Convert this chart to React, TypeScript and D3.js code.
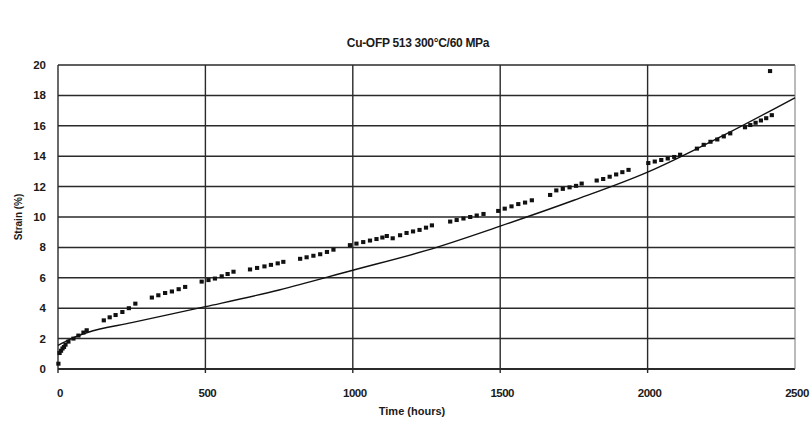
import React from "react";
import * as d3 from "d3";

const title = "Cu-OFP 513 300°C/60 MPa";
const xTicks = [0, 500, 1000, 1500, 2000, 2500];
const yTicks = [0, 2, 4, 6, 8, 10, 12, 14, 16, 18, 20];

const obsTime = [
  1, 5, 10, 15, 20, 25, 35, 52, 69, 86, 97,
  155, 175, 195, 218, 240, 262,
  318, 340, 363, 386, 409, 431,
  487, 510, 532, 555, 575, 595,
  651, 675, 700, 722, 745, 764,
  821, 843, 866, 889, 912, 934,
  990, 1012, 1035, 1058, 1080, 1100, 1115, 1135,
  1160, 1182, 1204, 1226, 1248, 1268,
  1330, 1352, 1375, 1398, 1420, 1443,
  1493, 1515, 1538, 1561, 1584, 1607,
  1669, 1690, 1712, 1735, 1757, 1776,
  1827, 1849, 1871, 1893, 1914, 1935,
  2002, 2024, 2046, 2068, 2090, 2110,
  2167, 2190, 2213, 2236, 2258, 2280,
  2330, 2348, 2366, 2384, 2402, 2421,
  2415,
];
const obsStrain = [
  0.35, 1.05, 1.2, 1.35, 1.45, 1.6, 1.8, 2.0, 2.2, 2.4, 2.55,
  3.2, 3.4, 3.55, 3.75, 4.0, 4.3,
  4.7, 4.85, 5.0, 5.1, 5.25, 5.4,
  5.75, 5.85, 5.95, 6.1, 6.25, 6.4,
  6.55, 6.65, 6.75, 6.85, 6.95, 7.05,
  7.25, 7.35, 7.45, 7.55, 7.7, 7.85,
  8.15, 8.25, 8.35, 8.45, 8.55, 8.65, 8.75, 8.6,
  8.8, 8.95, 9.05, 9.15, 9.3, 9.45,
  9.7, 9.8, 9.9, 10.0, 10.1, 10.2,
  10.4, 10.55, 10.7, 10.85, 10.95, 11.1,
  11.45, 11.75, 11.85, 11.95, 12.05, 12.2,
  12.4, 12.5, 12.65, 12.8, 12.95, 13.1,
  13.55, 13.65, 13.75, 13.85, 13.95, 14.1,
  14.5, 14.75, 14.95, 15.1, 15.3, 15.5,
  15.9, 16.05, 16.2, 16.35, 16.5, 16.7,
  19.6,
];

const fitTime = [0, 40, 100, 250, 500, 750, 1000, 1250, 1500, 1750, 2000, 2250, 2500];
const fitStrain = [1.55, 1.95, 2.4, 3.05, 4.1, 5.2, 6.5, 7.8, 9.4, 11.1, 12.95, 15.3, 17.85];

const W = 811;
const H = 425;
const m = { left: 58, right: 16, top: 65, bottom: 56 };

export default function App() {
  const x = d3.scaleLinear().domain([0, 2500]).range([m.left, W - m.right]);
  const y = d3.scaleLinear().domain([0, 20]).range([H - m.bottom, m.top]);
  const fitData = fitTime.map((t, i) => [t, fitStrain[i]] as [number, number]);
  const line = d3
    .line<[number, number]>()
    .x((d) => x(d[0]))
    .y((d) => y(d[1]))
    .curve(d3.curveMonotoneX);
  const font = "'Liberation Sans', Arial, sans-serif";
  const ink = "#1a1a1a";
  return (
    <svg
      width={W}
      height={H}
      style={{ position: "absolute", left: 0, top: 0, background: "#fff" }}
      fontFamily={font}
    >
      <rect x={0} y={0} width={W} height={H} fill="#fff" />
      <text x={418} y={47} textAnchor="middle" fontSize={12} fontWeight="bold" fill={ink} letterSpacing={-0.3}>
        {title}
      </text>
      {/* horizontal grid */}
      {yTicks.map((v) => (
        <line key={"h" + v} x1={x(0)} x2={x(2500)} y1={y(v)} y2={y(v)} stroke="#2a2a2a" strokeWidth={v === 0 ? 2 : 1.5} />
      ))}
      {/* vertical grid */}
      {xTicks.map((v) => (
        <line
          key={"v" + v}
          x1={x(v)}
          x2={x(v)}
          y1={y(20)}
          y2={y(0) + (v === 2500 ? 0 : 4)}
          stroke={v === 2500 ? "#777" : "#2a2a2a"}
          strokeWidth={v === 2500 ? 1 : 1.4}
        />
      ))}
      {/* y tick labels */}
      {yTicks.map((v) => (
        <text key={"yt" + v} x={46} y={y(v) + 4} textAnchor="end" fontSize={11.5} fontWeight="bold" fill={ink}>
          {v}
        </text>
      ))}
      {/* x tick labels */}
      {xTicks.map((v) => (
        <text key={"xt" + v} x={x(v) + 2} y={397} textAnchor="middle" fontSize={11.5} fontWeight="bold" fill={ink} letterSpacing={-0.5}>
          {v}
        </text>
      ))}
      <text x={412} y={415} textAnchor="middle" fontSize={11} fontWeight="bold" fill={ink}>
        Time (hours)
      </text>
      <text
        transform={`translate(22, ${y(10)}) rotate(-90)`}
        textAnchor="middle"
        fontSize={10}
        fontWeight="bold"
        fill={ink}
      >
        Strain (%)
      </text>
      {/* fit curve */}
      <path d={line(fitData) || ""} fill="none" stroke="#111" strokeWidth={1.4} />
      {/* observations */}
      {obsTime.map((t, i) => (
        <rect key={"p" + i} x={x(t) - 2} y={y(obsStrain[i]) - 2} width={4.2} height={4} fill="#111" />
      ))}
    </svg>
  );
}
